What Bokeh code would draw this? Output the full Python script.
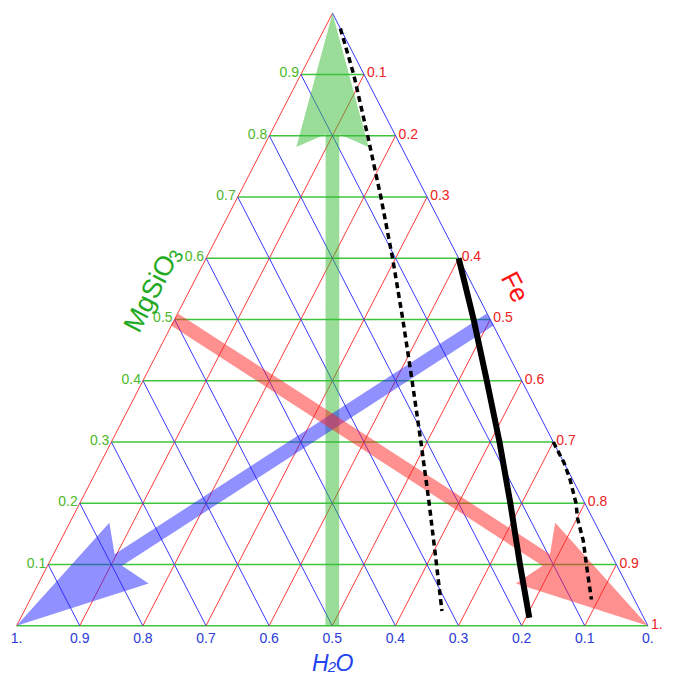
import numpy as np
from bokeh.plotting import figure
from bokeh.models import Range1d
from bokeh.embed import file_html
from bokeh.resources import INLINE
from bokeh.core.properties import value

# ---------------- data ----------------
grid_values = [0.0, 0.1, 0.2, 0.3, 0.4, 0.5, 0.6, 0.7, 0.8, 0.9]

h2o_tick_values = [1.0, 0.9, 0.8, 0.7, 0.6, 0.5, 0.4, 0.3, 0.2, 0.1, 0.0]
h2o_tick_labels = ["1.", "0.9", "0.8", "0.7", "0.6", "0.5", "0.4", "0.3", "0.2", "0.1", "0."]

mgsio3_tick_values = [0.1, 0.2, 0.3, 0.4, 0.5, 0.6, 0.7, 0.8, 0.9]
mgsio3_tick_labels = ["0.1", "0.2", "0.3", "0.4", "0.5", "0.6", "0.7", "0.8", "0.9"]

fe_tick_values = [0.1, 0.2, 0.3, 0.4, 0.5, 0.6, 0.7, 0.8, 0.9, 1.0]
fe_tick_labels = ["0.1", "0.2", "0.3", "0.4", "0.5", "0.6", "0.7", "0.8", "0.9", "1."]

# curves given as (H2O, MgSiO3) fractions; Fe = 1 - H2O - MgSiO3
solid_h2o = [0.0, 0.0263, 0.0554, 0.0852, 0.118, 0.1527, 0.1814]
solid_mgsio3 = [0.6, 0.5, 0.4, 0.3, 0.2, 0.1, 0.013]

dot1_h2o = [0.0, 0.0164, 0.0442, 0.0733, 0.1047, 0.1384, 0.1737, 0.2097, 0.2466, 0.2849, 0.3143]
dot1_mgsio3 = [0.975, 0.9, 0.8, 0.7, 0.6, 0.5, 0.4, 0.3, 0.2, 0.1, 0.024]

dot2_h2o = [0.0, 0.0, 0.004, 0.014, 0.024, 0.033, 0.0475, 0.068]
dot2_mgsio3 = [0.3, 0.266, 0.239, 0.2, 0.175, 0.139, 0.1, 0.043]

# arrows: (start H2O, start MgSiO3) -> (tip H2O, tip MgSiO3)
arrow_green = ((0.5, 0.0), (0.0, 1.0))
arrow_blue = ((0.0, 0.5), (1.0, 0.0))
arrow_red = ((0.5, 0.5), (0.0, 0.0))

# ---------------- layout ----------------
W, H = 665, 679
REF_W, REF_H = 681.0, 695.0
SX, SY = W / REF_W, H / REF_H
LEFT = (16.5, 640.0)   # H2O = 1 (reference px)
RIGHT = (663.0, 640.0) # Fe = 1
TOP = (340.0, 13.0)    # MgSiO3 = 1


def to_data(sx, sy):
    return sx * SX, H - sy * SY


def tern_screen(h, m):
    f = 1.0 - h - m
    sx = h * LEFT[0] + m * TOP[0] + f * RIGHT[0]
    sy = h * LEFT[1] + m * TOP[1] + f * RIGHT[1]
    return sx, sy


def tern(h, m):
    return to_data(*tern_screen(h, m))


def curve(hs, ms):
    pts = [tern(h, m) for h, m in zip(hs, ms)]
    return [q[0] for q in pts], [q[1] for q in pts]


p = figure(width=W, height=H, x_range=Range1d(0, W), y_range=Range1d(0, H),
           output_backend="svg", toolbar_location=None, min_border=0)
p.axis.visible = False
p.grid.visible = False
p.outline_line_color = None
p.background_fill_color = "white"
p.border_fill_color = "white"

GREEN = "#3fc43f"
RED = "#ff3a3a"
BLUE = "#3a3aff"

# grid lines
gx, gy = [], []
for v in grid_values:  # MgSiO3 = v
    a = tern(1 - v, v); b = tern(0.0, v)
    gx.append([a[0], b[0]]); gy.append([a[1], b[1]])
p.multi_line(gx, gy, line_color=GREEN, line_width=1.6)

rx, ry = [], []
for v in grid_values:  # Fe = v
    a = tern(1 - v, 0.0); b = tern(0.0, 1 - v)
    rx.append([a[0], b[0]]); ry.append([a[1], b[1]])
p.multi_line(rx, ry, line_color=RED, line_width=1)

bx, by = [], []
for v in grid_values:  # H2O = v
    a = tern(v, 0.0); b = tern(v, 1 - v)
    bx.append([a[0], b[0]]); by.append([a[1], b[1]])
p.multi_line(bx, by, line_color=BLUE, line_width=1)


# arrows (shape computed in reference pixel space)
def arrow_poly(arrow, half_w=7.0, head_len=137.0, head_half=37.0, notch=124.0):
    (h0, m0), (h1, m1) = arrow
    S = np.array(tern_screen(h0, m0)); T = np.array(tern_screen(h1, m1))
    u = (T - S) / np.linalg.norm(T - S)
    n = np.array([-u[1], u[0]])
    pts = [S + n * half_w,
           T - u * notch + n * half_w,
           T - u * head_len + n * head_half,
           T,
           T - u * head_len - n * head_half,
           T - u * notch - n * half_w,
           S - n * half_w]
    d = [to_data(*q) for q in pts]
    return [q[0] for q in d], [q[1] for q in d]


for arr, col in [(arrow_green, "#33bb33"), (arrow_blue, "#2222ff"), (arrow_red, "#ff2222")]:
    xs, ys = arrow_poly(arr)
    p.patch(xs, ys, fill_color=col, fill_alpha=0.5, line_color=None)

# black curves
xs, ys = curve(solid_h2o, solid_mgsio3)
p.line(xs, ys, line_color="black", line_width=6, line_join="round")
xs, ys = curve(dot1_h2o, dot1_mgsio3)
p.line(xs, ys, line_color="black", line_width=3.5, line_dash="6 4")
xs, ys = curve(dot2_h2o, dot2_mgsio3)
p.line(xs, ys, line_color="black", line_width=3.5, line_dash="6 4")

FONT = value("Liberation Sans")

# tick labels: H2O (bottom)
tx, ty = [], []
for v in h2o_tick_values:
    x, y = tern(v, 0.0)
    tx.append(x); ty.append(y - 7)
p.text(tx, ty, text=h2o_tick_labels, text_color="#2a3bd8", text_font=FONT,
       text_font_size="14px", text_align="center", text_baseline="top")

# MgSiO3 (left)
tx, ty = [], []
for v in mgsio3_tick_values:
    x, y = tern(1 - v, v)
    tx.append(x - 2); ty.append(y + 2)
p.text(tx, ty, text=mgsio3_tick_labels, text_color="#4cb82a", text_font=FONT,
       text_font_size="14px", text_align="right", text_baseline="middle")

# Fe (right)
tx, ty = [], []
for v in fe_tick_values:
    x, y = tern(0.0, 1 - v)
    tx.append(x + 3); ty.append(y + 2)
p.text(tx, ty, text=fe_tick_labels, text_color="#ee2222", text_font=FONT,
       text_font_size="14px", text_align="left", text_baseline="middle")

# ---- axis titles ----
# H2O: H and O italic, subscript 2
hx, hy = to_data(319, 678)
p.text([hx], [hy], text=["H"], text_color="#2244ee", text_font=FONT,
       text_font_size="23px", text_font_style="italic",
       text_align="left", text_baseline="alphabetic")
sx2, sy2 = to_data(335, 682)
p.text([sx2], [sy2], text=["2"], text_color="#2244ee", text_font=FONT,
       text_font_size="15px", text_font_style="italic",
       text_align="left", text_baseline="alphabetic")
ox, oy = to_data(343, 678)
p.text([ox], [oy], text=["O"], text_color="#2244ee", text_font=FONT,
       text_font_size="23px", text_font_style="italic",
       text_align="left", text_baseline="alphabetic")

# MgSiO3 along left edge
edge_angle = np.arctan2((LEFT[1] - TOP[1]) * SY, (TOP[0] - LEFT[0]) * SX)
u = np.array([np.cos(edge_angle), -np.sin(edge_angle)])   # screen, along text
dn = np.array([np.sin(edge_angle), np.cos(edge_angle)])   # screen, text "down"
center = np.array([155.0, 296.0])
main_len, sub_len = 82.0, 11.0
start = center - u * (main_len + sub_len) / 2
x, y = to_data(*start)
p.text([x], [y], text=["MgSiO"], text_color="#22aa22", text_font=FONT,
       text_font_size="27px", text_align="left", text_baseline="middle",
       angle=edge_angle)
sub = start + u * (main_len + 1) + dn * 6
x, y = to_data(*sub)
p.text([x], [y], text=["3"], text_color="#22aa22", text_font=FONT,
       text_font_size="19px", text_align="left", text_baseline="middle",
       angle=edge_angle)

x, y = to_data(527, 293)
p.text([x], [y], text=["Fe"], text_color="#ff1111", text_font=FONT,
       text_font_size="26px", text_align="center", text_baseline="middle",
       angle=-edge_angle)

open("out.html", "w").write(file_html(p, INLINE))
